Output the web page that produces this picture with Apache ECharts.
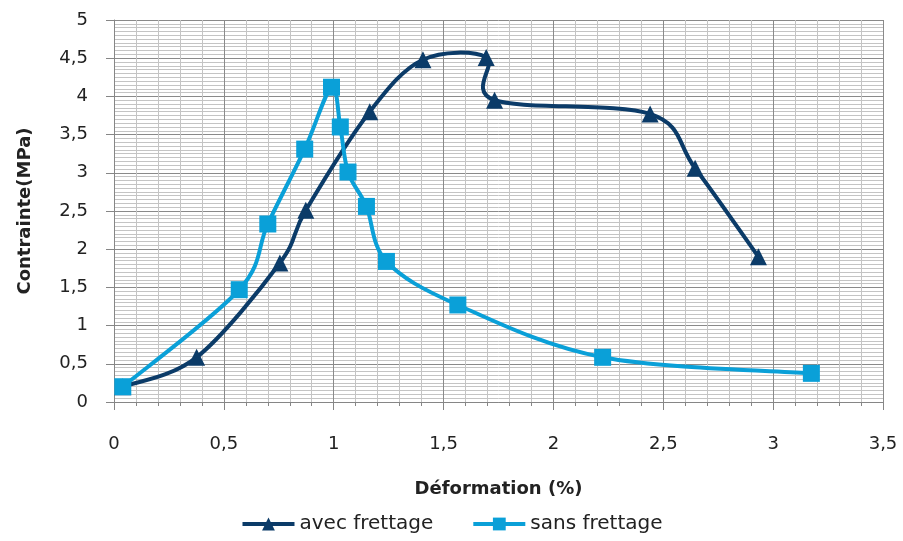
<!DOCTYPE html>
<html>
<head>
<meta charset="utf-8">
<script src="https://cdn.jsdelivr.net/npm/echarts@6/dist/echarts.min.js"></script>
<style>
  html, body { margin: 0; padding: 0; background: #fff; }
  #chart { width: 903px; height: 541px; }
</style>
</head>
<body>
<div id="chart"></div>
<script>
// Stress–strain curves, with and without confinement
const avecX = [0.04, 0.376, 0.755, 0.873, 1.164, 1.406, 1.694, 1.732, 2.44, 2.645, 2.933];
const avecY = [0.20, 0.585, 1.82, 2.51, 3.80, 4.48, 4.51, 3.95, 3.77, 3.06, 1.90];

const sansX = [0.04, 0.57, 0.70, 0.868, 0.99, 1.03, 1.065, 1.149, 1.24, 1.565, 2.224, 3.174];
const sansY = [0.20, 1.47, 2.33, 3.31, 4.12, 3.60, 3.01, 2.56, 1.84, 1.27, 0.585, 0.375];

const seriesNames = ['avec frettage', 'sans frettage'];
const xTitle = 'Déformation (%)';
const yTitle = 'Contrainte(MPa)';

const AVEC_COLOR = '#0b3b68';
const SANS_COLOR = '#0aa0d8';
const FONT = 'DejaVu Sans';

const pairs = (xs, ys) => xs.map((x, i) => [x, ys[i]]);
const commaFmt = v => String(v).replace('.', ',');

// Spreadsheet-style smoothed curve: cubic Bézier through every point,
// control points taken from neighbouring points (tension 1/6), in pixel space.
function smoothCurve(xs, ys, color) {
  return function (params, api) {
    if (params.dataIndex !== 0) return null;
    const p = xs.map((x, i) => api.coord([x, ys[i]]));
    const n = p.length;
    let d = 'M' + p[0][0] + ' ' + p[0][1];
    for (let i = 0; i < n - 1; i++) {
      const p0 = p[Math.max(i - 1, 0)];
      const p1 = p[i];
      const p2 = p[i + 1];
      const p3 = p[Math.min(i + 2, n - 1)];
      const c1x = p1[0] + (p2[0] - p0[0]) / 6;
      const c1y = p1[1] + (p2[1] - p0[1]) / 6;
      const c2x = p2[0] - (p3[0] - p1[0]) / 6;
      const c2y = p2[1] - (p3[1] - p1[1]) / 6;
      d += ' C' + c1x + ' ' + c1y + ' ' + c2x + ' ' + c2y + ' ' + p2[0] + ' ' + p2[1];
    }
    return {
      type: 'path',
      shape: { pathData: d },
      style: { stroke: color, lineWidth: 4, fill: null, lineJoin: 'round', lineCap: 'round' }
    };
  };
}

const chart = echarts.init(document.getElementById('chart'), null, { renderer: 'canvas' });

chart.setOption({
  animation: false,
  textStyle: { fontFamily: FONT },
  grid: { left: 114, right: 20, top: 20, bottom: 139 },
  legend: {
    bottom: 2,
    left: 'center',
    itemWidth: 52,
    itemHeight: 16,
    itemGap: 38,
    lineStyle: { width: 4, opacity: 1 },
    textStyle: { fontFamily: FONT, fontSize: 20, color: '#222' },
    data: seriesNames
  },
  xAxis: {
    type: 'value',
    min: 0, max: 3.5, interval: 0.5,
    name: xTitle,
    nameLocation: 'middle',
    nameGap: 78,
    nameTextStyle: { fontFamily: FONT, fontSize: 18, fontWeight: 'bold', color: '#222' },
    axisLine: { show: true, lineStyle: { color: '#868686', width: 1 } },
    axisTick: { show: true, length: 8, lineStyle: { color: '#868686' } },
    minorTick: { show: true, splitNumber: 5, length: 4, lineStyle: { color: '#868686' } },
    axisLabel: { fontFamily: FONT, fontSize: 18, color: '#222', margin: 33, formatter: commaFmt },
    splitLine: { show: true, lineStyle: { color: '#8a8a8a', width: 1 } },
    minorSplitLine: { show: true, lineStyle: { color: '#c4c4c4', width: 1 } }
  },
  yAxis: {
    type: 'value',
    min: 0, max: 5, interval: 0.5,
    name: yTitle,
    nameLocation: 'middle',
    nameGap: 80,
    nameTextStyle: { fontFamily: FONT, fontSize: 18, fontWeight: 'bold', color: '#222' },
    axisLine: { show: true, lineStyle: { color: '#868686', width: 1 } },
    axisTick: { show: true, length: 8, lineStyle: { color: '#868686' } },
    minorTick: { show: false, splitNumber: 10 },
    axisLabel: { fontFamily: FONT, fontSize: 18, color: '#222', margin: 26, formatter: commaFmt },
    splitLine: { show: true, lineStyle: { color: '#8a8a8a', width: 1 } },
    minorSplitLine: { show: true, lineStyle: { color: '#c4c4c4', width: 1 } }
  },
  series: [
    // markers (the curves themselves are drawn by the custom series below)
    {
      name: seriesNames[0],
      type: 'line',
      z: 3,
      data: pairs(avecX, avecY),
      symbol: 'triangle',
      symbolSize: 17,
      color: AVEC_COLOR,
      lineStyle: { width: 4, color: AVEC_COLOR, opacity: 0 },
      itemStyle: { color: AVEC_COLOR }
    },
    {
      name: seriesNames[1],
      type: 'line',
      z: 5,
      data: pairs(sansX, sansY),
      symbol: 'rect',
      symbolSize: 17,
      color: SANS_COLOR,
      lineStyle: { width: 4, color: SANS_COLOR, opacity: 0 },
      itemStyle: { color: SANS_COLOR }
    },
    {
      name: seriesNames[0],
      type: 'custom',
      z: 2,
      silent: true,
      data: pairs(avecX, avecY),
      renderItem: smoothCurve(avecX, avecY, AVEC_COLOR)
    },
    {
      name: seriesNames[1],
      type: 'custom',
      z: 4,
      silent: true,
      data: pairs(sansX, sansY),
      renderItem: smoothCurve(sansX, sansY, SANS_COLOR)
    }
  ]
});
</script>
</body>
</html>
